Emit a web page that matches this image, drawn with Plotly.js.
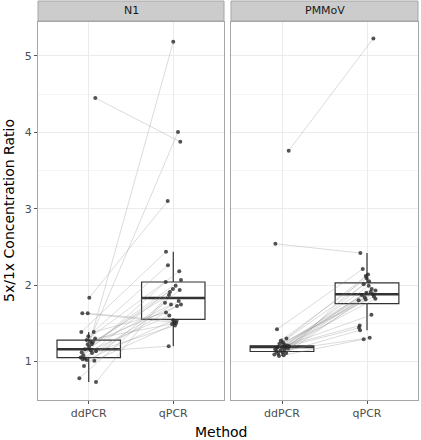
<!DOCTYPE html>
<html>
<head>
<meta charset="utf-8">
<script src="https://cdn.plot.ly/plotly-3.0.1.min.js"></script>
<style>html,body{margin:0;padding:0;background:#fff}#chart{width:421px;height:440px}</style>
</head>
<body>
<div id="chart"></div>
<script>
// ---- data ----
const methods = ["ddPCR", "qPCR"];
const panels = ["N1", "PMMoV"];

// N1: paired samples (ddPCR value, jitter; qPCR value, jitter)
const n1_dd  = [4.45,1.26,1.08,1.835,1.12,1.63,1.63,1.386,1.386,1.33,1.30,1.28,1.25,1.226,1.226,1.16,1.147,1.134,1.11,1.05,1.04,1.02,1.03,1.01,0.94,0.78,0.73,1.19];
const n1_ddJ = [0.078,0.015,-0.064,0.007,-0.083,-0.076,-0.012,-0.088,0.059,-0.005,0.075,-0.024,0.047,-0.012,0.036,-0.044,0.024,0.086,0.039,-0.095,-0.044,-0.024,-0.071,0.066,-0.056,-0.111,0.086,0.004];
const n1_q   = [3.876,5.185,4.006,3.10,1.20,1.51,1.53,2.436,1.64,2.26,1.49,2.18,1.87,1.745,2.065,1.95,1.60,1.47,1.79,2.04,1.726,1.54,1.99,1.50,1.935,1.77,1.91,1.745];
const n1_qJ  = [0.083,0,0.056,-0.066,-0.054,0.012,0.04,-0.086,-0.086,-0.063,-0.015,0.071,-0.051,0.091,0.091,-0.004,-0.047,0.02,0.064,-0.09,0.044,0,0.028,0.032,0.076,-0.098,-0.039,-0.027];

// PMMoV
const pm_dd  = [3.76,2.54,1.42,1.30,1.27,1.25,1.23,1.22,1.21,1.20,1.20,1.19,1.19,1.18,1.18,1.17,1.16,1.15,1.14,1.13,1.12,1.11,1.10,1.09,1.08,1.07];
const pm_ddJ = [0.079,-0.078,-0.059,0.052,-0.015,0.012,-0.03,0.03,0.06,0.025,0.085,-0.05,0.04,-0.06,0.0,0.07,-0.08,0.03,-0.02,-0.065,0.01,0.05,-0.045,-0.09,0.02,-0.035];
const pm_q   = [5.23,2.42,2.21,2.14,2.09,1.85,2.05,1.91,1.47,1.99,2.01,1.88,1.44,1.90,1.82,1.81,1.61,1.31,1.80,1.87,1.41,1.93,1.84,1.95,2.12,1.29];
const pm_qJ  = [0.075,-0.078,-0.05,0.012,-0.004,0.082,0.024,0.044,-0.086,0.02,-0.039,0.071,-0.094,-0.007,0.099,-0.015,0.052,0.032,-0.098,-0.06,-0.082,0.1,-0.027,0.055,-0.015,-0.039];

// Box statistics [ddPCR, qPCR]
const n1_lower  = [0.73, 1.20];
const n1_q1     = [1.05, 1.55];
const n1_median = [1.16, 1.83];
const n1_q3     = [1.28, 2.04];
const n1_upper  = [1.386, 2.436];

const pm_lower  = [1.07, 1.41];
const pm_q1     = [1.13, 1.757];
const pm_median = [1.19, 1.88];
const pm_q3     = [1.205, 2.03];
const pm_upper  = [1.30, 2.42];

// ---- build traces ----
const traces = [];
const BOXW = 0.75;
function addPanel(dd, ddJ, q, qJ, lo, q1, med, q3, up, xa, ya) {
  // boxes
  traces.push({
    type: "box", x: [1, 2], q1: q1, median: med, q3: q3,
    lowerfence: lo, upperfence: up, width: BOXW, whiskerwidth: 0,
    boxpoints: false, fillcolor: "white",
    line: {color: "#333333", width: 1.2},
    xaxis: xa, yaxis: ya, showlegend: false, hoverinfo: "skip"
  });
  // thicker median bars
  for (let i = 0; i < 2; i++) {
    traces.push({
      type: "scatter", mode: "lines",
      x: [i + 1 - BOXW / 2, i + 1 + BOXW / 2], y: [med[i], med[i]],
      line: {color: "#333333", width: 2.4},
      xaxis: xa, yaxis: ya, showlegend: false, hoverinfo: "skip"
    });
  }
  // paired lines
  const lx = [], ly = [];
  for (let i = 0; i < dd.length; i++) {
    lx.push(1 + ddJ[i], 2 + qJ[i], null);
    ly.push(dd[i], q[i], null);
  }
  traces.push({
    type: "scatter", mode: "lines", x: lx, y: ly,
    line: {color: "rgba(140,140,140,0.45)", width: 0.7},
    xaxis: xa, yaxis: ya, showlegend: false, hoverinfo: "skip", connectgaps: false
  });
  // points
  const px = [], py = [];
  for (let i = 0; i < dd.length; i++) {
    px.push(1 + ddJ[i]); py.push(dd[i]);
    px.push(2 + qJ[i]); py.push(q[i]);
  }
  traces.push({
    type: "scatter", mode: "markers", x: px, y: py,
    marker: {color: "rgba(40,40,40,0.8)", size: 4},
    xaxis: xa, yaxis: ya, showlegend: false
  });
}
addPanel(n1_dd, n1_ddJ, n1_q, n1_qJ, n1_lower, n1_q1, n1_median, n1_q3, n1_upper, "x", "y");
addPanel(pm_dd, pm_ddJ, pm_q, pm_qJ, pm_lower, pm_q1, pm_median, pm_q3, pm_upper, "x2", "y2");

const FONT = "DejaVu Sans, sans-serif";
const yTop = 0.9474;
const xCommon = {
  range: [0.4, 2.6], tickvals: [1, 2], ticktext: methods,
  showgrid: true, gridcolor: "#ebebeb", gridwidth: 1, zeroline: false,
  showline: true, mirror: true, linecolor: "#a6a6a6", linewidth: 1,
  ticks: "outside", ticklen: 3, tickcolor: "#555", tickwidth: 1,
  tickfont: {family: FONT, size: 11, color: "#4d4d4d"}, fixedrange: true
};
const yCommon = {
  range: [0.495, 5.445], tick0: 0, dtick: 1, domain: [0, yTop],
  showgrid: true, gridcolor: "#ebebeb", gridwidth: 1, zeroline: false,
  minor: {dtick: 0.5, showgrid: true, gridcolor: "#f4f4f4", gridwidth: 1},
  showline: true, mirror: true, linecolor: "#a6a6a6", linewidth: 1,
  fixedrange: true
};

const d1 = [0, 0.4895], d2 = [0.5079, 1];
const layout = {
  width: 421, height: 440,
  margin: {l: 38, r: 3, t: 1, b: 40},
  paper_bgcolor: "white", plot_bgcolor: "white",
  showlegend: false,
  font: {family: FONT},
  xaxis: Object.assign({}, xCommon, {domain: d1, anchor: "y"}),
  xaxis2: Object.assign({}, xCommon, {domain: d2, anchor: "y2"}),
  yaxis: Object.assign({}, yCommon, {anchor: "x", ticks: "outside", ticklen: 3, tickcolor: "#555",
    tickfont: {family: FONT, size: 11, color: "#4d4d4d"}}),
  yaxis2: Object.assign({}, yCommon, {anchor: "x2", matches: "y", showticklabels: false, ticks: ""}),
  shapes: [
    {type: "rect", xref: "paper", yref: "paper", x0: d1[0], x1: d1[1], y0: 0.9499, y1: 1,
     fillcolor: "#cccccc", line: {color: "#a6a6a6", width: 1}},
    {type: "rect", xref: "paper", yref: "paper", x0: d2[0], x1: d2[1], y0: 0.9499, y1: 1,
     fillcolor: "#cccccc", line: {color: "#a6a6a6", width: 1}}
  ],
  annotations: [
    {text: panels[0], xref: "paper", yref: "paper", x: (d1[0] + d1[1]) / 2, y: 0.975,
     showarrow: false, font: {family: FONT, size: 11, color: "#1a1a1a"}, xanchor: "center", yanchor: "middle"},
    {text: panels[1], xref: "paper", yref: "paper", x: (d2[0] + d2[1]) / 2, y: 0.975,
     showarrow: false, font: {family: FONT, size: 11, color: "#1a1a1a"}, xanchor: "center", yanchor: "middle"},
    {text: "Method", xref: "paper", yref: "paper", x: 0.4816, y: -0.08,
     showarrow: false, font: {family: FONT, size: 14, color: "#000"}, xanchor: "center", yanchor: "middle"},
    {text: "5x/1x Concentration Ratio", xref: "paper", yref: "paper", x: -0.0763, y: 0.4737,
     textangle: -90, showarrow: false, font: {family: FONT, size: 14, color: "#000"}, xanchor: "center", yanchor: "middle"}
  ]
};

Plotly.newPlot("chart", traces, layout, {displayModeBar: false, staticPlot: true});
</script>
</body>
</html>
